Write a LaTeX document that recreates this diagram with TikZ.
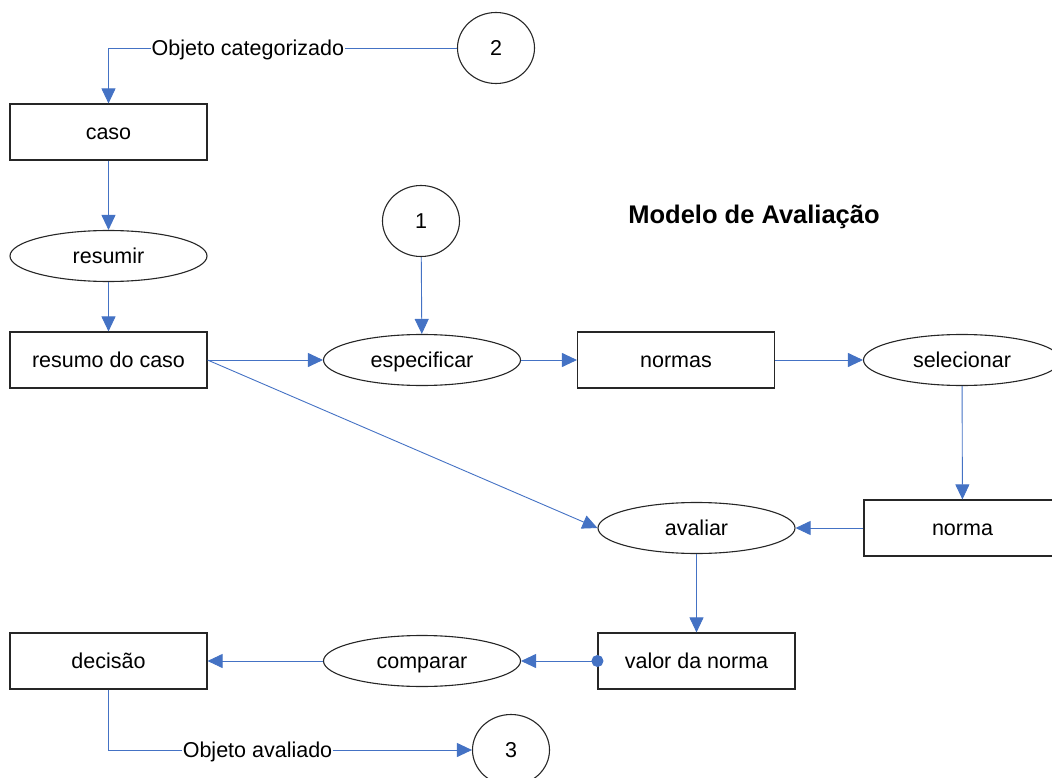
\documentclass[tikz,border=0pt]{standalone}
\usepackage{fontspec}
\setmainfont{Liberation Sans}
\usetikzlibrary{shapes.geometric,arrows.meta}
\definecolor{lineblue}{RGB}{68,114,196}
\begin{document}
\begin{tikzpicture}[x=1pt,y=-1pt,
  every node/.style={font=\fontsize{21.5}{25}\selectfont,text height=19.5pt,text depth=4.6pt},
  box/.style={draw=black!85,line width=1.1pt,rectangle,minimum width=197pt,minimum height=56pt,inner sep=0pt},
  proc/.style={draw=black!85,line width=1.1pt,ellipse,minimum width=197pt,minimum height=51pt,inner sep=0pt},
  conn/.style={draw=black!85,line width=1.1pt,ellipse,minimum width=77pt,minimum height=71pt,inner sep=0pt},
  flow/.style={draw=lineblue,line width=0.9pt,-{Triangle[length=15pt,width=14pt]}},
  lbl/.style={fill=white,inner sep=1pt}
]
\useasboundingbox (0,0) rectangle (1052,778);
% nodes
\node[box] (caso) at (108.5,132) {caso};
\node[proc] (resumir) at (108.5,256) {resumir};
\node[box] (resumo) at (108.5,360) {resumo do caso};
\node[conn] (c1) at (421,221) {1};
\node[proc] (espec) at (422,360) {especificar};
\node[box] (normas) at (676,360) {normas};
\node[proc] (selec) at (962,360) {selecionar};
\node[box] (norma) at (962.5,528) {norma};
\node[proc] (avaliar) at (696.5,528) {avaliar};
\node[box] (valor) at (696.5,661) {valor da norma};
\node[proc] (comparar) at (422,661) {comparar};
\node[box] (decisao) at (108.5,661) {decisão};
\node[conn] (c2) at (496,48) {2};
\node[conn] (c3) at (511,750) {3};
\node[font=\bfseries\fontsize{25.5}{30}\selectfont,text height=23pt,text depth=5.4pt] (title) at (754,215) {Modelo de Avaliação};
% connectors
\draw[flow] (c2.west) -- (caso.north |- c2.west) node[lbl,pos=0.6] {Objeto categorizado} -- (caso.north);
\draw[flow] (caso) -- (resumir);
\draw[flow] (resumir) -- (resumo);
\draw[flow] (resumo.east) -- (espec.west);
\draw[flow] (resumo.east) -- (avaliar.west);
\draw[flow] (c1) -- (espec);
\draw[flow] (espec) -- (normas);
\draw[flow] (normas) -- (selec);
\draw[flow] (selec) -- (norma);
\draw[flow] (norma) -- (avaliar);
\draw[flow] (avaliar) -- (valor);
\draw[flow,{Circle[length=12pt,sep=-6pt]}-{Triangle[length=15pt,width=14pt]}] (valor.west) -- (comparar.east);
\draw[flow] (comparar) -- (decisao);
\draw[flow] (decisao.south) -- (decisao.south |- c3.west) -- node[lbl,pos=0.41] {Objeto avaliado} (c3.west);
\end{tikzpicture}
\end{document}
